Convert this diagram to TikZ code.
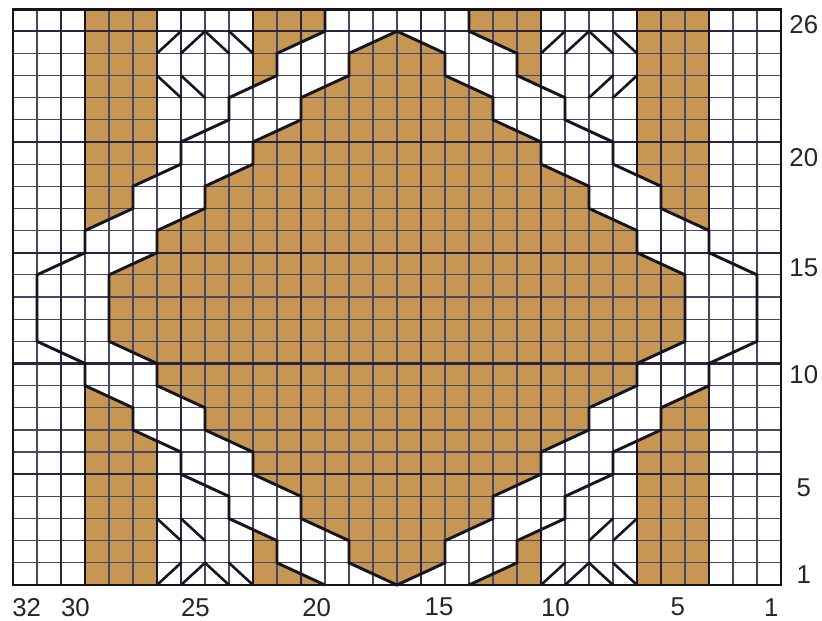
\documentclass[tikz,border=0pt]{standalone}
\usepackage{xcolor}
\usepackage{fontspec}
\usepackage{tikz}
\usetikzlibrary{positioning}
\newfontfamily\chartfont{Liberation Sans}
\definecolor{chartbrown}{RGB}{198,150,82}
\definecolor{gridnavy}{RGB}{40,38,62}
\definecolor{gridgray}{RGB}{72,72,98}
\definecolor{inkdark}{RGB}{22,20,30}
\tikzset{
  knitfill/.style={fill=chartbrown, draw=none},
  gridthin/.style={color=gridgray, line width=1.05pt},
  gridthick/.style={color=gridnavy, line width=2.1pt},
  edgeline/.style={color=inkdark, line width=2.5pt, line join=miter},
  cablesym/.style={color=inkdark, line width=2.2pt, line cap=round},
  rowlabel/.style={font=\chartfont\fontsize{22}{24}\selectfont, inner sep=0pt, text=black!85},
  collabel/.style={font=\chartfont\fontsize{22}{24}\selectfont, inner sep=0pt, text=black!85}
}

\begin{document}
\begin{tikzpicture}[x=0.72cm, y=0.6645cm]
  \useasboundingbox (-0.5417,-1.625) rectangle (33.708,26.41);
  \fill[white] (-0.5417,-1.625) rectangle (33.708,26.41);

  % brown areas
  \fill[knitfill] (16,25) -- (14,24) -- (14,23) -- (12,22) -- (12,21) -- (10,20) -- (10,19)
    -- (8,18) -- (8,17) -- (6,16) -- (6,15) -- (4,14) -- (4,11) -- (6,10) -- (6,9) -- (8,8)
    -- (8,7) -- (10,6) -- (10,5) -- (12,4) -- (12,3) -- (14,2) -- (14,1) -- (16,0)
    -- (18,1) -- (18,2) -- (20,3) -- (20,4) -- (22,5) -- (22,6) -- (24,7) -- (24,8) -- (26,9)
    -- (26,10) -- (28,11) -- (28,14) -- (26,15) -- (26,16) -- (24,17) -- (24,18) -- (22,19)
    -- (22,20) -- (20,21) -- (20,22) -- (18,23) -- (18,24) -- cycle;
  \fill[knitfill] (3,26) -- (3,16) -- (5,17) -- (5,18) -- (6,18.5) -- (6,26) -- cycle;
  \fill[knitfill] (3,0) -- (3,9) -- (5,8) -- (5,7) -- (6,6.5) -- (6,0) -- cycle;
  \fill[knitfill] (29,26) -- (29,16) -- (27,17) -- (27,18) -- (26,18.5) -- (26,26) -- cycle;
  \fill[knitfill] (29,0) -- (29,9) -- (27,8) -- (27,7) -- (26,6.5) -- (26,0) -- cycle;
  \fill[knitfill] (10,26) -- (10,22.5) -- (11,23) -- (11,24) -- (13,25) -- (13,26) -- cycle;
  \fill[knitfill] (22,26) -- (22,22.5) -- (21,23) -- (21,24) -- (19,25) -- (19,26) -- cycle;
  \fill[knitfill] (10,0) -- (10,2.5) -- (11,2) -- (11,1) -- (13,0) -- cycle;
  \fill[knitfill] (22,0) -- (22,2.5) -- (21,2) -- (21,1) -- (19,0) -- cycle;

  % grid
  \foreach \i in {1,...,31} \draw[gridthin] (\i,0) -- (\i,26);
  \foreach \j in {1,...,25} \draw[gridthin] (0,\j) -- (32,\j);
  \foreach \i in {2,7,12,17,22,27} \draw[gridthick] (\i,0) -- (\i,26);
  \foreach \j in {5,10,15,20,25} \draw[gridthick] (0,\j) -- (32,\j);
  \draw[gridthick, line width=2.5pt, color=inkdark] (0,0) rectangle (32,26);

  % diamond
  \draw[edgeline] (16,25) -- (14,24) -- (14,23) -- (12,22) -- (12,21) -- (10,20) -- (10,19)
    -- (8,18) -- (8,17) -- (6,16) -- (6,15) -- (4,14) -- (4,11) -- (6,10) -- (6,9) -- (8,8)
    -- (8,7) -- (10,6) -- (10,5) -- (12,4) -- (12,3) -- (14,2) -- (14,1) -- (16,0)
    -- (18,1) -- (18,2) -- (20,3) -- (20,4) -- (22,5) -- (22,6) -- (24,7) -- (24,8) -- (26,9)
    -- (26,10) -- (28,11) -- (28,14) -- (26,15) -- (26,16) -- (24,17) -- (24,18) -- (22,19)
    -- (22,20) -- (20,21) -- (20,22) -- (18,23) -- (18,24) -- cycle;

  % outer band
  \draw[edgeline] (13,26) -- (13,25) -- (11,24) -- (11,23) -- (9,22) -- (9,21) -- (7,20) -- (7,19)
    -- (5,18) -- (5,17) -- (3,16) -- (3,15) -- (1,14) -- (1,11) -- (3,10) -- (3,9) -- (5,8)
    -- (5,7) -- (7,6) -- (7,5) -- (9,4) -- (9,3) -- (11,2) -- (11,1) -- (13,0);
  \draw[edgeline] (19,26) -- (19,25) -- (21,24) -- (21,23) -- (23,22) -- (23,21) -- (25,20) -- (25,19)
    -- (27,18) -- (27,17) -- (29,16) -- (29,15) -- (31,14) -- (31,11) -- (29,10) -- (29,9) -- (27,8)
    -- (27,7) -- (25,6) -- (25,5) -- (23,4) -- (23,3) -- (21,2) -- (21,1) -- (19,0);

  % strip and block edges
  \draw[edgeline] (3,26) -- (3,16);
  \draw[edgeline] (6,26) -- (6,18.5);
  \draw[edgeline] (3,0) -- (3,9);
  \draw[edgeline] (6,0) -- (6,6.5);
  \draw[edgeline] (29,26) -- (29,16);
  \draw[edgeline] (26,26) -- (26,18.5);
  \draw[edgeline] (29,0) -- (29,9);
  \draw[edgeline] (26,0) -- (26,6.5);
  \draw[edgeline] (10,26) -- (10,22.5);
  \draw[edgeline] (22,26) -- (22,22.5);
  \draw[edgeline] (10,0) -- (10,2.5);
  \draw[edgeline] (22,0) -- (22,2.5);

  % cable crossings
  \draw[cablesym] (6,24) -- (7,25) (7,24) -- (8,25) (8,25) -- (9,24) (9,25) -- (10,24);
  \draw[cablesym] (6,23) -- (7,22) (7,23) -- (8,22);
  \draw[cablesym] (22,24) -- (23,25) (23,24) -- (24,25) (24,25) -- (25,24) (25,25) -- (26,24);
  \draw[cablesym] (24,22) -- (25,23) (25,22) -- (26,23);
  \draw[cablesym] (6,0) -- (7,1) (7,0) -- (8,1) (8,1) -- (9,0) (9,1) -- (10,0);
  \draw[cablesym] (6,3) -- (7,2) (7,3) -- (8,2);
  \draw[cablesym] (22,0) -- (23,1) (23,0) -- (24,1) (24,1) -- (25,0) (25,1) -- (26,0);
  \draw[cablesym] (24,2) -- (25,3) (25,2) -- (26,3);

  % row and stitch numbers
  \foreach \n/\r in {26/25.3, 20/19.3, 15/14.3, 10/9.5, 5/4.4, 1/0.45}
    \node[rowlabel] (row\n) at (32.95,\r) {\n};
  \foreach \n/\c in {32/0.57, 30/2.6, 25/7.6, 20/12.65, 15/17.75, 10/22.6, 5/27.7, 1/31.6}
    \node[collabel] (col\n) at (\c,-1.0) {\n};
\end{tikzpicture}
\end{document}
